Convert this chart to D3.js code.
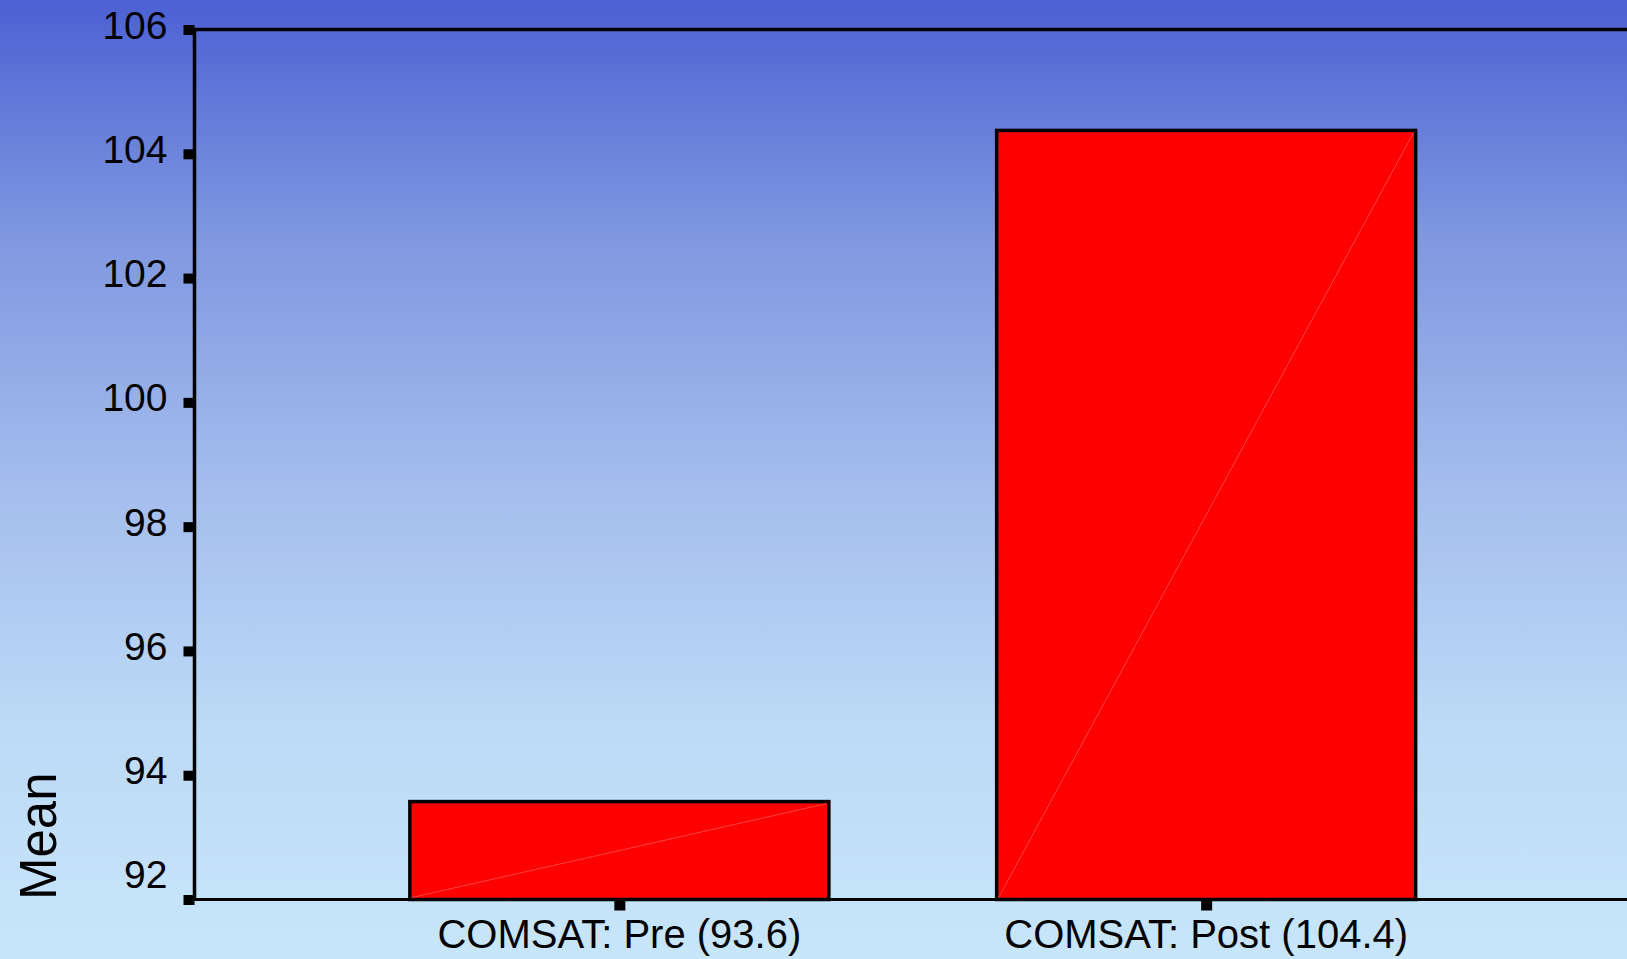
<!DOCTYPE html>
<html>
<head>
<meta charset="utf-8">
<script src="https://cdn.jsdelivr.net/npm/d3@7"></script>
<style>
html,body{margin:0;padding:0;overflow:hidden;}
svg{display:block;font-family:"Liberation Sans",Arial,sans-serif;}
</style>
</head>
<body>
<svg id="chart" width="1627" height="959"></svg>
<script>
const categories = ["COMSAT: Pre (93.6)", "COMSAT: Post (104.4)"];
const means = [93.6, 104.4];
const yTicks = [92, 94, 96, 98, 100, 102, 104, 106];
const yTitle = "Mean";

(function(){
const W = 1627, H = 959;
const svg = d3.select("#chart");

// background gradient
const defs = svg.append("defs");
const grad = defs.append("linearGradient").attr("id","bg").attr("x1",0).attr("y1",0).attr("x2",0).attr("y2",1);
[[0,"#4c61d3"],[0.25,"#7f98e0"],[0.5,"#a3bced"],[0.75,"#bcd9f6"],[1,"#c8e6fa"]].forEach(s=>
  grad.append("stop").attr("offset",s[0]).attr("stop-color",s[1]));
svg.append("rect").attr("width",W).attr("height",H).attr("fill","url(#bg)");

const pLeft = 194.5, pRight = 1631, pTop = 29.5, pBottom = 899.5;

const x = d3.scaleBand().domain(categories).range([pLeft, pRight]).paddingInner(0.286).paddingOuter(0.367);
const y = d3.scaleLinear().domain([92, 106]).range([pBottom, pTop]);

// bars
const g = svg.append("g");
categories.forEach((c,i)=>{
  const x0 = x(c), bw = x.bandwidth(), y0 = y(means[i]) + 1.5;
  g.append("rect").attr("x",x0).attr("y",y0).attr("width",bw).attr("height",y(92)-y0)
    .attr("fill","#ff0000").attr("stroke","#000").attr("stroke-width",3.5);
  g.append("line").attr("x1",x0+2).attr("y1",y(92)-2).attr("x2",x0+bw-2).attr("y2",y0+2)
    .attr("stroke","#ff6a6a").attr("stroke-width",0.8).attr("stroke-opacity",0.8);
});

// axes frame lines
svg.append("line").attr("x1",pLeft).attr("x2",W).attr("y1",pTop).attr("y2",pTop).attr("stroke","#000").attr("stroke-width",3.5);
svg.append("line").attr("x1",pLeft).attr("x2",W).attr("y1",pBottom).attr("y2",pBottom).attr("stroke","#000").attr("stroke-width",3);
svg.append("line").attr("x1",pLeft).attr("x2",pLeft).attr("y1",pTop-1.5).attr("y2",pBottom+1.5).attr("stroke","#000").attr("stroke-width",3.5);

// y axis ticks & labels
const yAxis = d3.axisLeft(y).tickValues(yTicks).tickSize(0).tickPadding(0).tickFormat(d3.format("d"));
const ya = svg.append("g").attr("transform",`translate(${pLeft},0)`).call(yAxis);
ya.select(".domain").remove();
ya.selectAll(".tick text").remove();
ya.selectAll(".tick").append("rect").attr("x",-11).attr("y",-5).attr("width",11).attr("height",10).attr("fill","#000");
ya.selectAll(".tick").append("text")
  .attr("x",-27).attr("y",d=> d===92 ? -12.5 : 8.5)
  .attr("text-anchor","end").attr("fill","#000")
  .style("font-size","39px").style("font-family","'Liberation Sans',Arial,sans-serif")
  .text(d=>d);

// x axis ticks & labels
const xAxis = d3.axisBottom(x).tickSize(0).tickPadding(0);
const xa = svg.append("g").attr("transform",`translate(0,${pBottom})`).call(xAxis);
xa.select(".domain").remove();
xa.selectAll(".tick text").remove();
xa.selectAll(".tick").append("rect").attr("x",-5).attr("y",0).attr("width",11).attr("height",11).attr("fill","#000");
xa.selectAll(".tick").append("text")
  .attr("x",0).attr("y",48.5).attr("text-anchor","middle").attr("fill","#000")
  .style("font-size","40px").style("font-family","'Liberation Sans',Arial,sans-serif")
  .text(d=>d);

// y title
svg.append("text").attr("transform","translate(56,900) rotate(-90)")
  .attr("text-anchor","start").attr("fill","#000")
  .style("font-size","51px").style("font-family","'Liberation Sans',Arial,sans-serif")
  .text(yTitle);
})();
</script>
</body>
</html>
